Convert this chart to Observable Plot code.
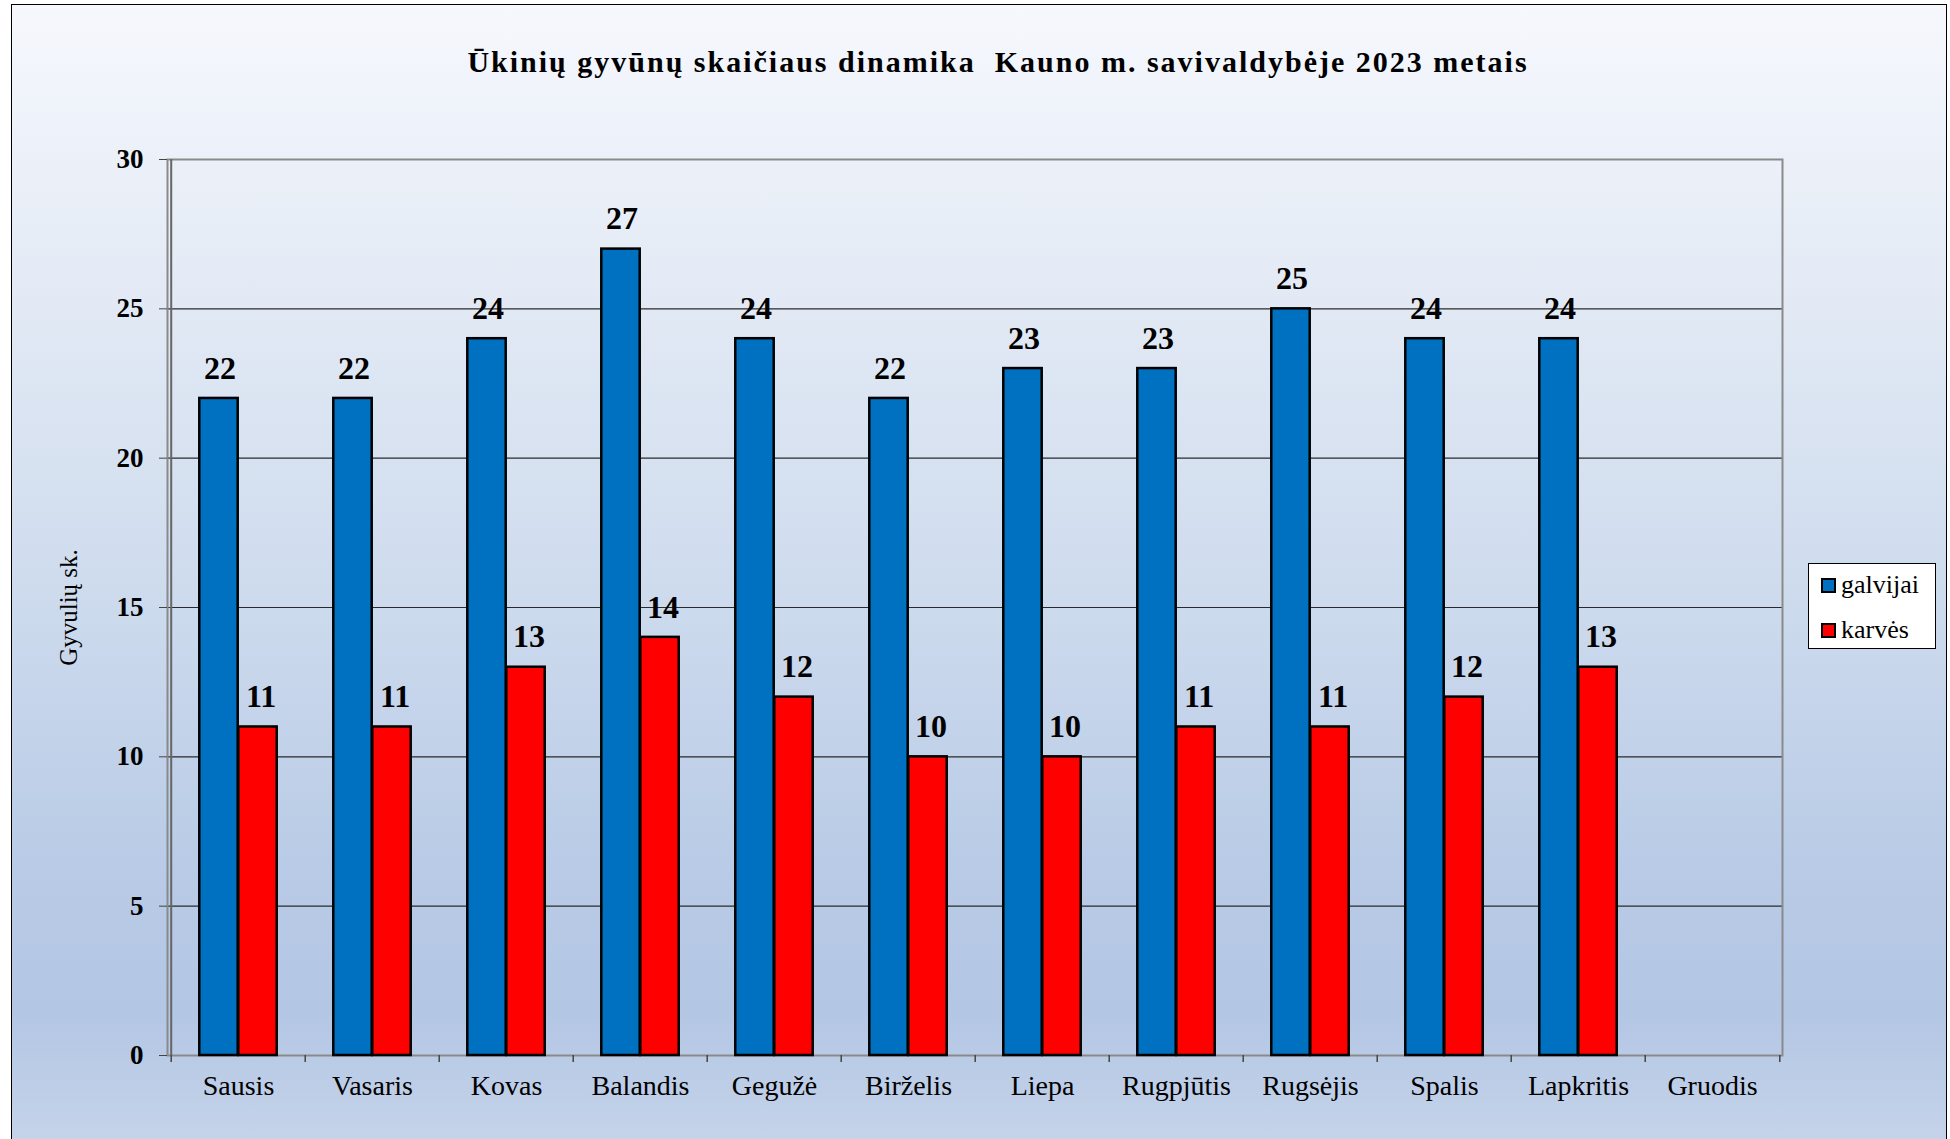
<!DOCTYPE html>
<html>
<head>
<meta charset="utf-8">
<script src="https://cdn.jsdelivr.net/npm/d3@7"></script>
<script src="https://cdn.jsdelivr.net/npm/@observablehq/plot@0.6"></script>
<style>
  html, body { margin: 0; padding: 0; background: #fff; }
  #page {
    position: relative; width: 1950px; height: 1139px;
    font-family: "Liberation Serif", "Times New Roman", serif;
    overflow: hidden; background: #fff;
  }
  #bg {
    position: absolute; left: 11px; top: 4px; width: 1936px; height: 1145px; box-sizing: border-box;
    border: 1.5px solid #000;
    background: linear-gradient(to bottom, #f6f8fd 0%, #e3eaf5 25%, #cfdcee 50%, #b9cbe6 75%, #b3c6e4 88%, #c6d4ea 100%);
  }
  #title {
    position: relative;
    height: 120px; line-height: 124px; text-align: center; white-space: pre;
    font-size: 30px; font-weight: bold; color: #000; padding-left: 46px;
    letter-spacing: 2px;
  }
  #chart { position: relative; }
  #chart svg { display: block; background: transparent; }
  #legend {
    position: absolute; left: 1808px; top: 563px; width: 128px; height: 86px;
    background: #fff; border: 1px solid #000; box-sizing: border-box;
    font-size: 26px;
  }
  .li { position: absolute; left: 12px; display: flex; align-items: center; height: 30px; }
  .sw { width: 15px; height: 15px; border: 2.5px solid #000; margin-right: 5px; box-sizing: border-box; }
</style>
</head>
<body>
<div id="page">
  <div id="bg"></div>
  <div id="title">Ūkinių gyvūnų skaičiaus dinamika  Kauno m. savivaldybėje 2023 metais</div>
  <div id="chart"></div>
  <div id="legend"></div>
</div>
<script>
const months = ["Sausis","Vasaris","Kovas","Balandis","Gegužė","Birželis","Liepa","Rugpjūtis","Rugsėjis","Spalis","Lapkritis","Gruodis"];
const seriesNames = ["galvijai","karvės"];
const galvijai = [22,22,24,27,24,22,23,23,25,24,24,null];
const karves = [11,11,13,14,12,10,10,11,11,12,13,null];
const colors = ["#0070C0","#FF0000"];
const yTicks = [0,5,10,15,20,25,30];

const W = 1950, H = 1019;
const mL = 167, mR = 168, mT = 39, mB = 84;
const step = (W - mL - mR) / months.length;
const barW = 39;
const inset = (step - barW) / 2;

const rows = [];
months.forEach((m, i) => {
  if (galvijai[i] != null) rows.push({month: m, series: seriesNames[0], value: galvijai[i]});
  if (karves[i] != null) rows.push({month: m, series: seriesNames[1], value: karves[i]});
});
const blue = rows.filter(d => d.series === seriesNames[0]);
const red = rows.filter(d => d.series === seriesNames[1]);

const fontFam = '"Liberation Serif", "Times New Roman", serif';

const chart = Plot.plot({
  width: W, height: H,
  marginLeft: mL, marginRight: mR, marginTop: mT, marginBottom: mB,
  style: {fontFamily: fontFam, background: "transparent", overflow: "visible"},
  x: {domain: months, padding: 0, label: null},
  y: {domain: [0, 30], label: null},
  marks: [
    Plot.ruleY(yTicks.filter(t => t > 0 && t < 30), {stroke: "#2a2a2a", strokeWidth: 1.2}),
    Plot.frame({stroke: "#8a8a8a", strokeWidth: 2}),
    Plot.ruleX([0], {x: () => months[0], dx: -step/2, stroke: "#666", strokeWidth: 2}),
    Plot.barY(blue, {x: "month", y: "value", fill: colors[0], stroke: "#000", strokeWidth: 2.5,
      insetLeft: inset, insetRight: inset, dx: -barW/2}),
    Plot.barY(red, {x: "month", y: "value", fill: colors[1], stroke: "#000", strokeWidth: 2.5,
      insetLeft: inset, insetRight: inset, dx: barW/2}),
    Plot.text(blue, {x: "month", y: "value", text: d => String(d.value), dx: -barW/2 + 1, dy: -30,
      fontSize: 32, fontWeight: "bold", fill: "#000"}),
    Plot.text(red, {x: "month", y: "value", text: d => String(d.value), dx: barW/2 + 3, dy: -30,
      fontSize: 32, fontWeight: "bold", fill: "#000"}),
    Plot.ruleX(months, {x: d => d, dx: -step/2, y1: 0, y2: 0, insetBottom: -7, stroke: "#444", strokeWidth: 1.5}),
    Plot.ruleX([months[months.length-1]], {x: d => d, dx: step/2, y1: 0, y2: 0, insetBottom: -7, stroke: "#444", strokeWidth: 1.5}),
    Plot.axisY({ticks: yTicks, tickSize: 8, tickPadding: 16, fontSize: 27, fontWeight: "bold", label: null,
      tickFormat: d => String(d), stroke: "#444", fill: "#000"}),
    Plot.axisX({tickSize: 0, tickPadding: 20, fontSize: 28, label: null, fill: "#000"}),
    Plot.text(["Gyvulių sk."], {frameAnchor: "left", textAnchor: "middle", rotate: -90, dx: -99, fontSize: 25, fill: "#000"})
  ]
});
document.getElementById("chart").appendChild(chart);

const legend = document.getElementById("legend");
seriesNames.forEach((s, i) => {
  const row = document.createElement("div");
  row.className = "li";
  row.style.top = (i === 0 ? 6 : 51) + "px";
  row.innerHTML = `<div class="sw" style="background:${colors[i]}"></div><span>${s}</span>`;
  legend.appendChild(row);
});
</script>
</body>
</html>
